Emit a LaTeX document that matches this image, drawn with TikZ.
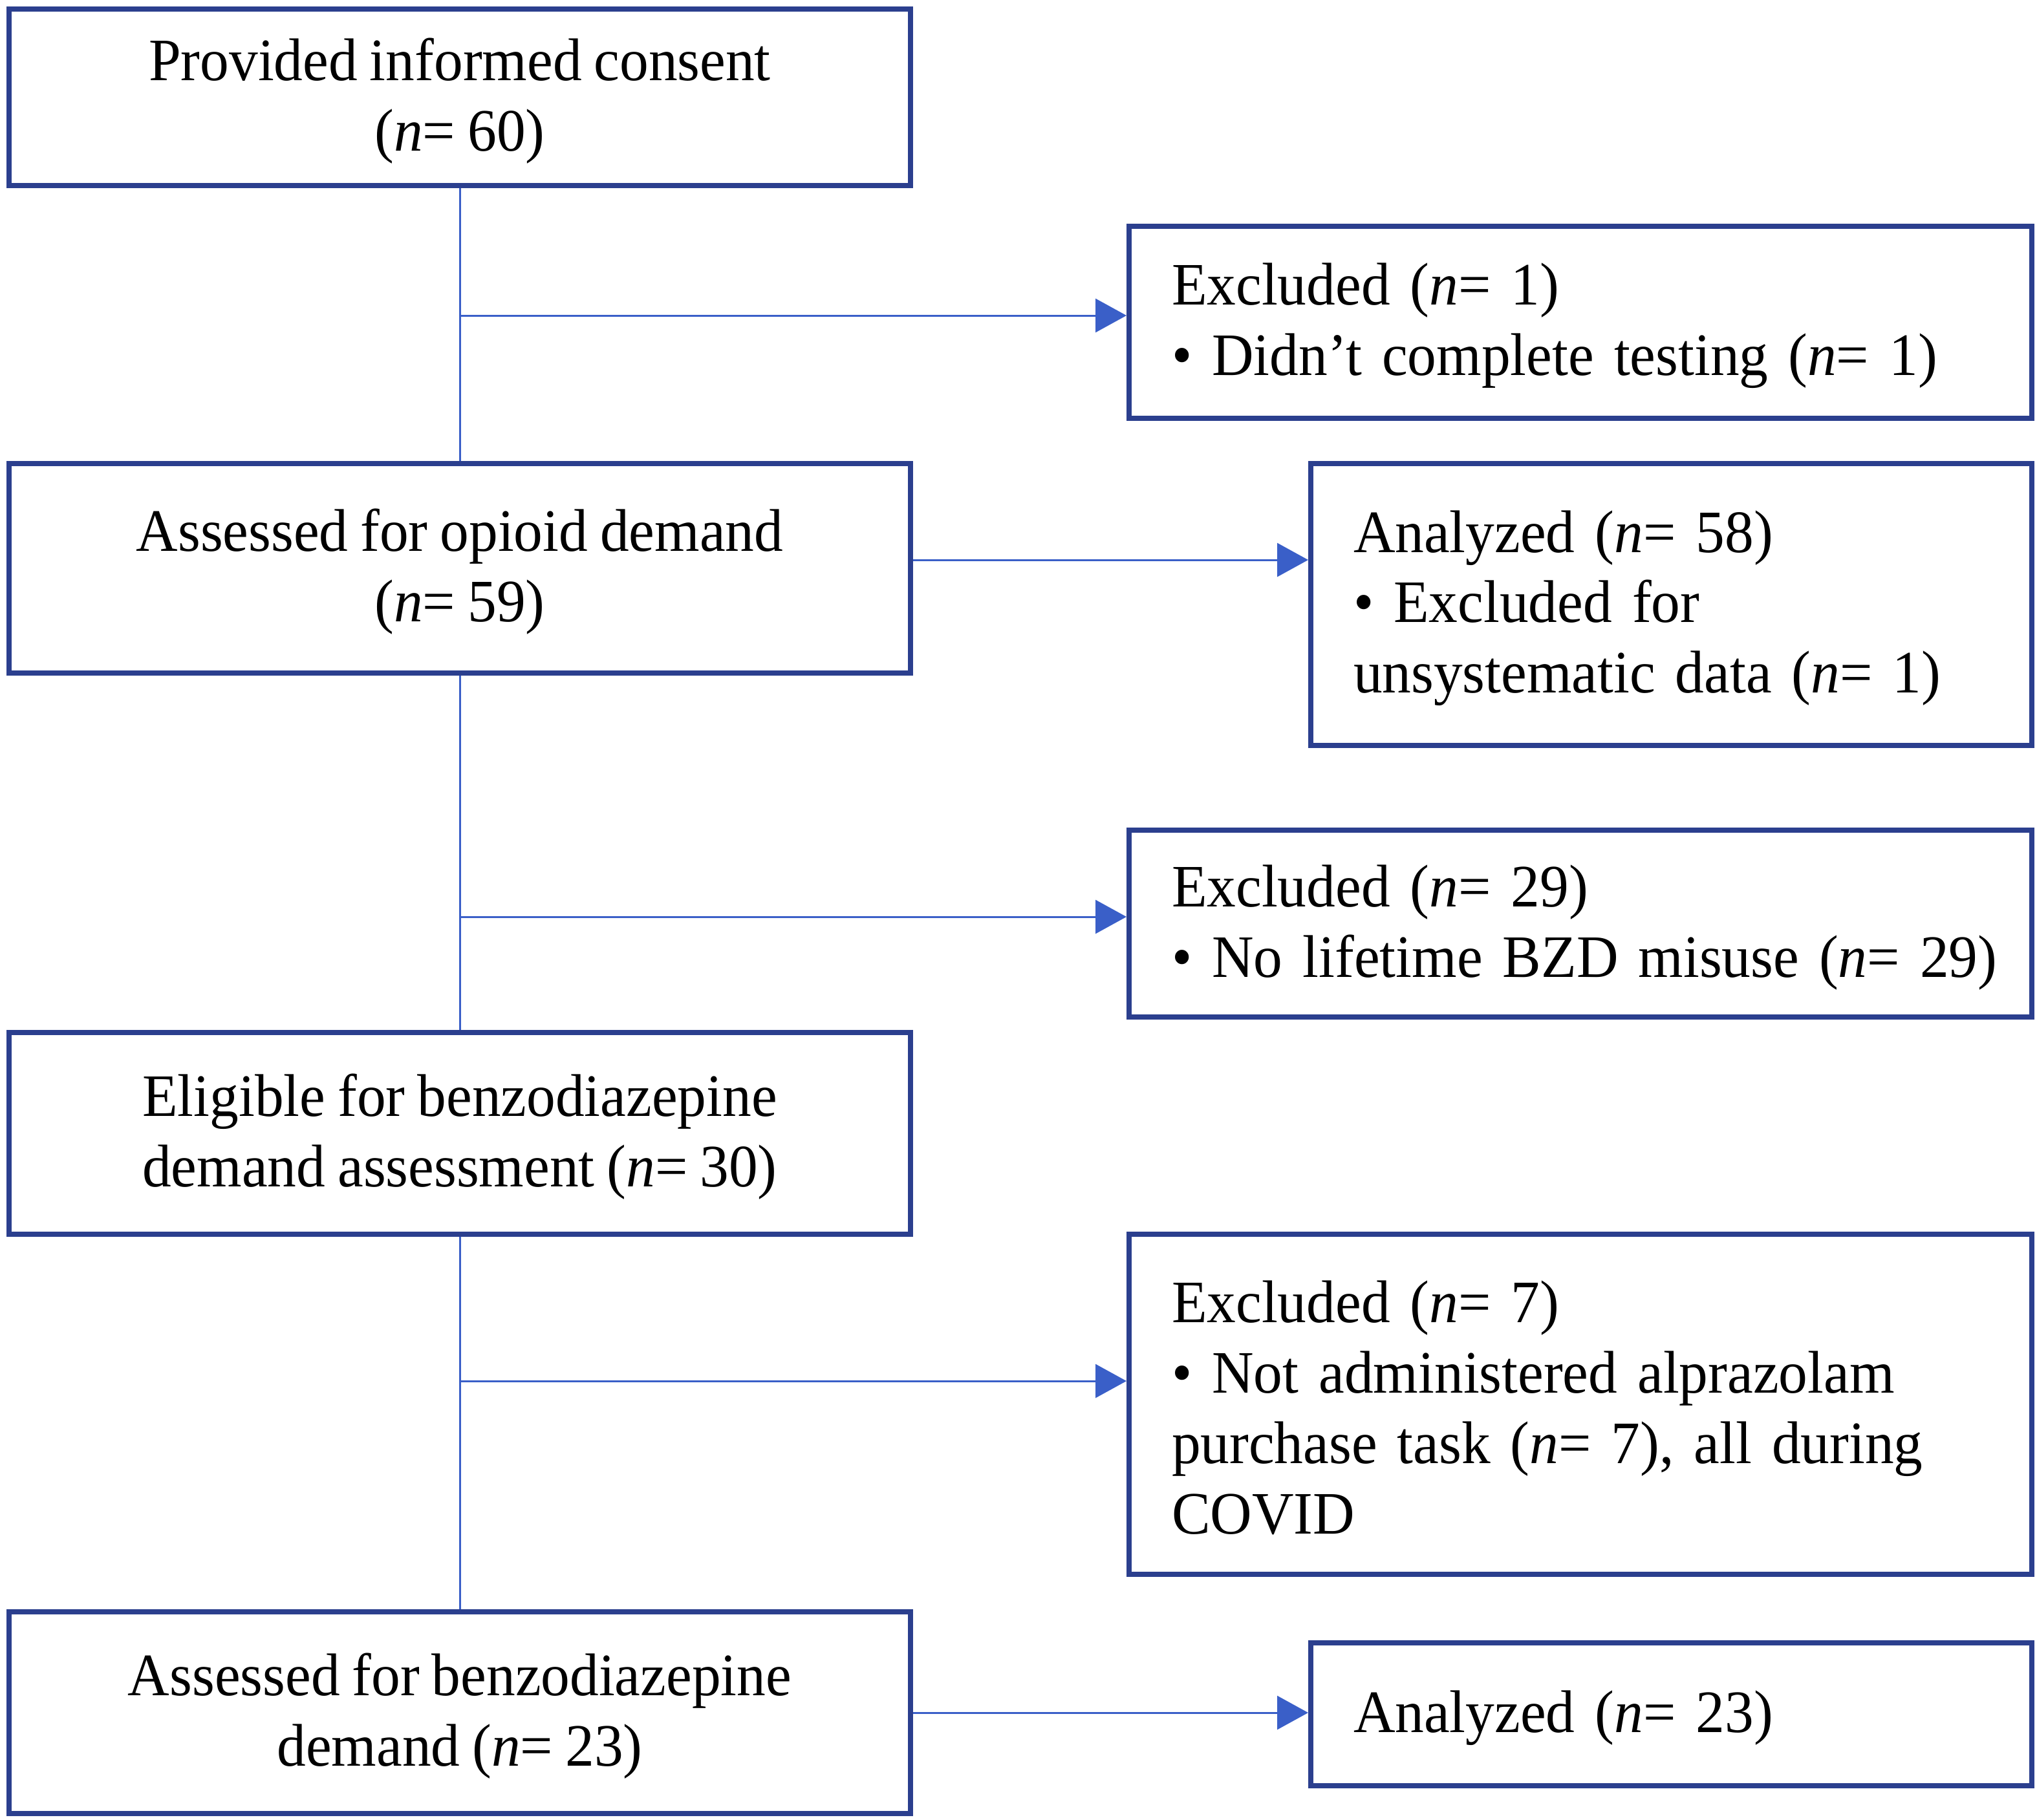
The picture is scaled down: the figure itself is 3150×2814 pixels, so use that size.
\documentclass[tikz,border=0pt]{standalone}
\usepackage{fontspec}
\setmainfont{Liberation Serif}[FakeStretch=0.96,WordSpace=0.85]
\usetikzlibrary{arrows.meta,calc}
\definecolor{boxblue}{HTML}{2B3F8E}
\definecolor{lineblue}{HTML}{3A5FC8}
\begin{document}
\begin{tikzpicture}[x=0.1mm,y=-0.1mm,
  box/.style={draw=boxblue,line width=0.8mm,anchor=north west,inner sep=0pt,
    font=\fontsize{26.5}{31}\selectfont},
  cbox/.style={box,align=center},
  lbox/.style={box,align=left},
  conn/.style={draw=lineblue,line width=0.3mm},
  arr/.style={conn,-{Triangle[length=4.8mm,width=5.2mm]}}
]
\useasboundingbox (0,0) rectangle (3150,2814);
% left column
\node[cbox,minimum width=139.4mm,minimum height=27.3mm] (b1) at (10,10)
  {\rule{0pt}{7.6mm}Provided informed consent\\(\textit{n}= 60)};
\node[cbox,minimum width=139.4mm,minimum height=32.4mm] (b3) at (10,713)
  {\rule{0pt}{7.6mm}Assessed for opioid demand\\(\textit{n}= 59)};
\node[cbox,minimum width=139.4mm,minimum height=31.2mm] (b6) at (10,1593)
  {\rule{0pt}{7.6mm}Eligible for benzodiazepine\\demand assessment (\textit{n}= 30)};
\node[cbox,minimum width=139.4mm,minimum height=31.2mm] (b8) at (10,2489)
  {\rule{0pt}{7.6mm}Assessed for benzodiazepine\\demand (\textit{n}= 23)};
% right column
\node[lbox,text width=126.4mm,minimum width=139.6mm,minimum height=29.7mm] (b2) at (1742,346)
  {\mbox{\rule{0pt}{7.6mm}Excluded (\textit{n}= 1)}\\\mbox{\textbullet\ Didn’t complete testing (\textit{n}= 1)}};
\node[lbox,text width=98.3mm,minimum width=111.5mm,minimum height=43.6mm] (b4) at (2023,713)
  {\mbox{\rule{0pt}{7.6mm}Analyzed (\textit{n}= 58)}\\\mbox{\textbullet\ Excluded for}\\\mbox{unsystematic data (\textit{n}= 1)}};
\node[lbox,text width=126.4mm,minimum width=139.6mm,minimum height=28.9mm] (b5) at (1742,1280)
  {\mbox{\rule{0pt}{7.6mm}Excluded (\textit{n}= 29)}\\\mbox{\textbullet\ No lifetime BZD misuse (\textit{n}= 29)}};
\node[lbox,text width=126.4mm,minimum width=139.6mm,minimum height=52.6mm] (b7) at (1742,1905)
  {\mbox{\rule{0pt}{7.6mm}Excluded (\textit{n}= 7)}\\\mbox{\textbullet\ Not administered alprazolam}\\\mbox{purchase task (\textit{n}= 7), all during}\\\mbox{COVID}};
\node[lbox,text width=98.3mm,minimum width=111.5mm,minimum height=22.1mm] (b9) at (2023,2537)
  {\mbox{\rule{0pt}{7.6mm}Analyzed (\textit{n}= 23)}};
% junction heights
\coordinate (y1) at (0,488);
\coordinate (y2) at (0,866);
\coordinate (y3) at (0,1418);
\coordinate (y4) at (0,2136);
\coordinate (j1) at (b1.south |- y1);
\coordinate (j3) at (b3.south |- y3);
\coordinate (j4) at (b6.south |- y4);
\coordinate (o2) at (b3.east |- y2);
% connectors
\draw[conn] (b1.south) -- (b3.north);
\draw[conn] (b3.south) -- (b6.north);
\draw[conn] (b6.south) -- (b8.north);
\draw[arr] (j1) -- (j1 -| b2.west);
\draw[arr] (o2) -- (o2 -| b4.west);
\draw[arr] (j3) -- (j3 -| b5.west);
\draw[arr] (j4) -- (j4 -| b7.west);
\draw[arr] (b8.east) -- (b8.east -| b9.west);
\end{tikzpicture}
\end{document}
